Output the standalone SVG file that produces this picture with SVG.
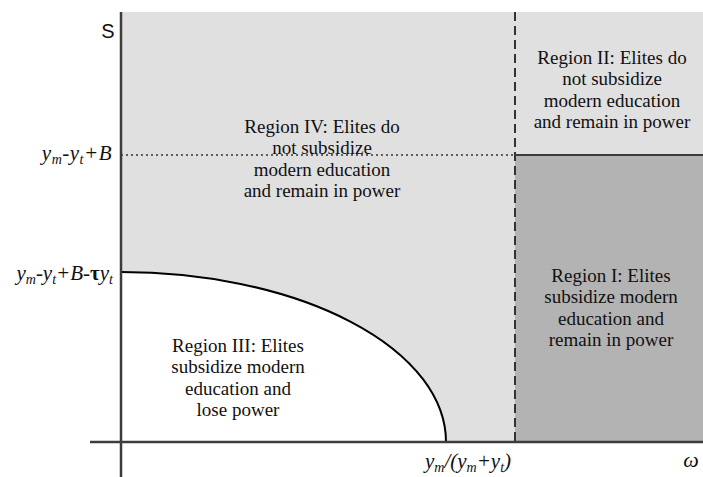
<svg xmlns="http://www.w3.org/2000/svg" width="703" height="477" viewBox="0 0 703 477">
<style>
text{font-family:"Liberation Serif","DejaVu Serif",serif;font-size:19px;fill:#111}
.c{text-anchor:middle}
.r{text-anchor:end}
.i{font-style:italic;font-size:21px}
.s{font-size:14px}
.ax{stroke:#3c3c3c;stroke-width:2.5;fill:none}
</style>
<rect x="121" y="12" width="582" height="430" fill="#e0e0e0"/>
<rect x="515" y="155" width="188" height="287" fill="#b3b3b3"/>
<path d="M121,272 A325,170 0 0 1 446,442 L121,442 Z" fill="#fff"/>
<g id="connectors">
<path d="M121,272 A325,170 0 0 1 446,442" stroke="#000" stroke-width="2" fill="none"/>
<line x1="515" y1="12" x2="515" y2="442" stroke="#333" stroke-width="2" stroke-dasharray="9,5"/>
<line x1="121" y1="155" x2="515" y2="155" stroke="#333" stroke-width="1.5" stroke-dasharray="2,3"/>
<line x1="515" y1="155" x2="703" y2="155" stroke="#3c3c3c" stroke-width="2"/>
<line class="ax" x1="121" y1="12" x2="121" y2="477"/>
<line class="ax" x1="90" y1="442" x2="703" y2="442"/>
</g>
<g id="axis-labels">
<text x="108" y="38" class="c" style="font-family:'Liberation Sans',sans-serif;font-size:20px">S</text>
<text x="112" y="160" class="r i" letter-spacing="0.5">y<tspan class="s" dy="4">m</tspan><tspan dy="-4">-y</tspan><tspan class="s" dy="4">t</tspan><tspan dy="-4">+B</tspan></text>
<text x="113" y="280" class="r i">y<tspan class="s" dy="4">m</tspan><tspan dy="-4">-y</tspan><tspan class="s" dy="4">t</tspan><tspan dy="-4">+B-</tspan><tspan font-style="normal" font-weight="bold">τ</tspan>y<tspan class="s" dy="4">t</tspan></text>
<text x="468" y="468" class="c i">y<tspan class="s" dy="4">m</tspan><tspan dy="-4">/(y</tspan><tspan class="s" dy="4">m</tspan><tspan dy="-4">+y</tspan><tspan class="s" dy="4">t</tspan><tspan dy="-4">)</tspan></text>
<text x="691" y="467" class="c i" style="font-size:22px">ω</text>
</g>
<g id="region-iv">
<text class="c" x="322" y="133">Region IV: Elites do</text>
<text class="c" x="322" y="154">not subsidize</text>
<text class="c" x="322" y="176">modern education</text>
<text class="c" x="322" y="197">and remain in power</text>
</g>
<g id="region-ii">
<text class="c" x="612" y="64">Region II: Elites do</text>
<text class="c" x="612" y="85">not subsidize</text>
<text class="c" x="612" y="107">modern education</text>
<text class="c" x="612" y="128">and remain in power</text>
</g>
<g id="region-i">
<text class="c" x="611" y="282">Region I: Elites</text>
<text class="c" x="611" y="303">subsidize modern</text>
<text class="c" x="611" y="325">education and</text>
<text class="c" x="611" y="346">remain in power</text>
</g>
<g id="region-iii">
<text class="c" x="238" y="352">Region III: Elites</text>
<text class="c" x="238" y="373">subsidize modern</text>
<text class="c" x="238" y="395">education and</text>
<text class="c" x="238" y="416">lose power</text>
</g>
</svg>
